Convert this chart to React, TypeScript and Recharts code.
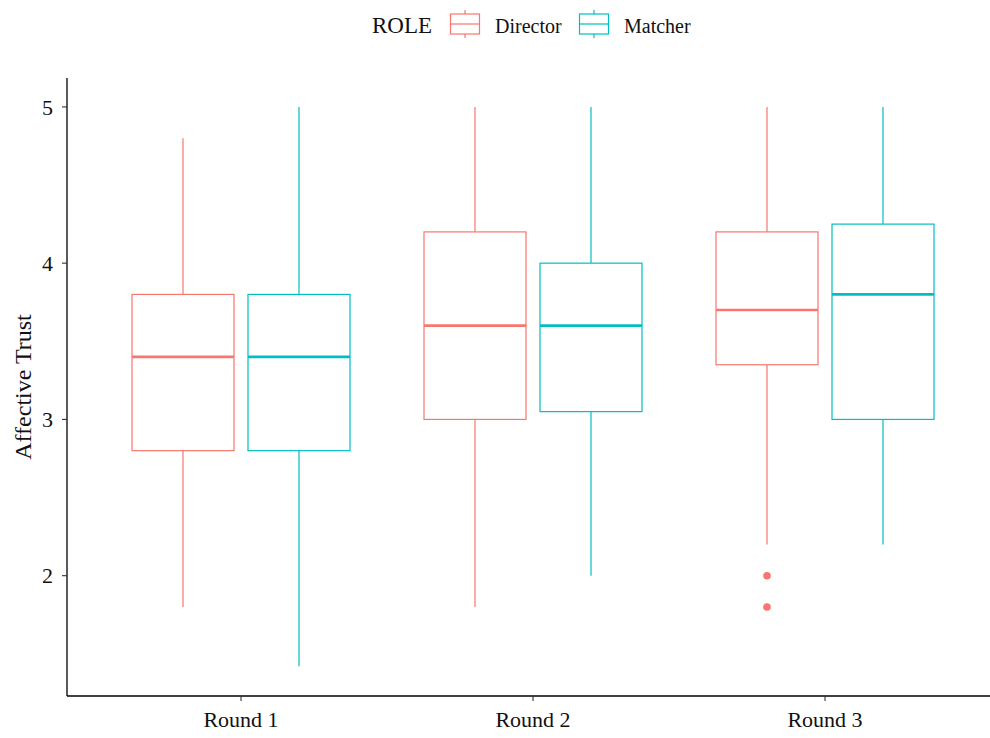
import { ComposedChart, Bar, XAxis, YAxis } from "recharts";

const rounds = ["Round 1", "Round 2", "Round 3"];

// Director boxes
const directorMin = [1.8, 1.8, 2.2];
const directorQ1 = [2.8, 3.0, 3.35];
const directorMedian = [3.4, 3.6, 3.7];
const directorQ3 = [3.8, 4.2, 4.2];
const directorMax = [4.8, 5.0, 5.0];
const directorOutliers = [[], [], [2.0, 1.8]];

// Matcher boxes
const matcherMin = [1.42, 2.0, 2.2];
const matcherQ1 = [2.8, 3.05, 3.0];
const matcherMedian = [3.4, 3.6, 3.8];
const matcherQ3 = [3.8, 4.0, 4.25];
const matcherMax = [5.0, 5.0, 5.0];
const matcherOutliers = [[], [], []];

const yTicks = [2, 3, 4, 5];

const DIRECTOR = "#F8766D";
const MATCHER = "#00BFC4";
const FONT = "'Liberation Serif', 'Times New Roman', serif";
const TEXT = "#111";

const data = rounds.map((round, i) => ({
  round,
  director: [directorMin[i], directorMax[i]],
  matcher: [matcherMin[i], matcherMax[i]],
  directorStats: {
    min: directorMin[i], q1: directorQ1[i], median: directorMedian[i],
    q3: directorQ3[i], max: directorMax[i], outliers: directorOutliers[i],
  },
  matcherStats: {
    min: matcherMin[i], q1: matcherQ1[i], median: matcherMedian[i],
    q3: matcherQ3[i], max: matcherMax[i], outliers: matcherOutliers[i],
  },
}));

// draws a box + whiskers inside the bar that spans min..max
const makeBoxShape = (color: string, key: "directorStats" | "matcherStats") => (props: any) => {
  const { x, y, width, height, payload } = props;
  const s = payload[key];
  const top = Math.min(y, y + height);
  const bottom = Math.max(y, y + height);
  const px = (v: number) => top + ((s.max - v) / (s.max - s.min)) * (bottom - top);
  const cx = x + width / 2;
  return (
    <g>
      <line x1={cx} x2={cx} y1={px(s.max)} y2={px(s.q3)} stroke={color} strokeWidth={1.2} />
      <line x1={cx} x2={cx} y1={px(s.q1)} y2={px(s.min)} stroke={color} strokeWidth={1.2} />
      <rect
        x={x}
        y={px(s.q3)}
        width={width}
        height={px(s.q1) - px(s.q3)}
        fill="#ffffff"
        stroke={color}
        strokeWidth={1.2}
      />
      <line x1={x} x2={x + width} y1={px(s.median)} y2={px(s.median)} stroke={color} strokeWidth={2.6} />
      {s.outliers.map((o: number, i: number) => (
        <circle key={i} cx={cx} cy={px(o)} r={3.8} fill={color} />
      ))}
    </g>
  );
};

const LegendKey = ({ x, color }: { x: number; color: string }) => (
  <g>
    <line x1={x + 14.5} x2={x + 14.5} y1={10} y2={38} stroke={color} strokeWidth={1.2} />
    <rect x={x} y={14} width={29} height={20} fill="#ffffff" stroke={color} strokeWidth={1.2} />
    <line x1={x} x2={x + 29} y1={24} y2={24} stroke={color} strokeWidth={1.2} />
  </g>
);

const YLabel = (props: any) => {
  const vb = props.viewBox || {};
  const cx = 23;
  const cy = (vb.y || 0) + (vb.height || 0) / 2;
  return (
    <text
      x={cx}
      y={cy}
      transform={`rotate(-90, ${cx}, ${cy})`}
      textAnchor="middle"
      dominantBaseline="central"
      fontFamily={FONT}
      fontSize={24}
      fill={TEXT}
    >
      Affective Trust
    </text>
  );
};

export default function App() {
  return (
    <div style={{ position: "absolute", left: 0, top: 0, width: 990, height: 738, background: "#ffffff" }}>
      <svg width={990} height={50} style={{ position: "absolute", left: 0, top: 0 }}>
        <text x={372} y={33} fontFamily={FONT} fontSize={23} fill={TEXT}>ROLE</text>
        <LegendKey x={450.5} color={DIRECTOR} />
        <text x={495} y={33} fontFamily={FONT} fontSize={20} fill={TEXT}>Director</text>
        <LegendKey x={579.5} color={MATCHER} />
        <text x={624} y={33} fontFamily={FONT} fontSize={20} fill={TEXT}>Matcher</text>
      </svg>
      <div style={{ position: "absolute", left: 0, top: 0 }}>
        <ComposedChart
          width={990}
          height={738}
          data={data}
          margin={{ top: 78, right: 0, bottom: 0, left: 0 }}
          barSize={102}
          barGap={14}
        >
          <XAxis
            dataKey="round"
            type="category"
            padding={{ left: 28, right: 19 }}
            axisLine={{ stroke: "#000", strokeWidth: 1.3 }}
            tickLine={{ stroke: "#333", strokeWidth: 1.1 }}
            tickSize={5}
            tickMargin={10}
            tick={{ fontFamily: FONT, fontSize: 22, fill: TEXT }}
            height={42}
          />
          <YAxis
            type="number"
            domain={[1.23, 5.185]}
            ticks={yTicks}
            allowDataOverflow
            width={67}
            axisLine={{ stroke: "#000", strokeWidth: 1.3 }}
            tickLine={{ stroke: "#333", strokeWidth: 1.1 }}
            tickSize={5}
            tickMargin={9}
            tick={{ fontFamily: FONT, fontSize: 22, fill: TEXT }}
            label={<YLabel />}
          />
          <Bar dataKey="director" isAnimationActive={false} shape={makeBoxShape(DIRECTOR, "directorStats")} />
          <Bar dataKey="matcher" isAnimationActive={false} shape={makeBoxShape(MATCHER, "matcherStats")} />
        </ComposedChart>
      </div>
    </div>
  );
}
